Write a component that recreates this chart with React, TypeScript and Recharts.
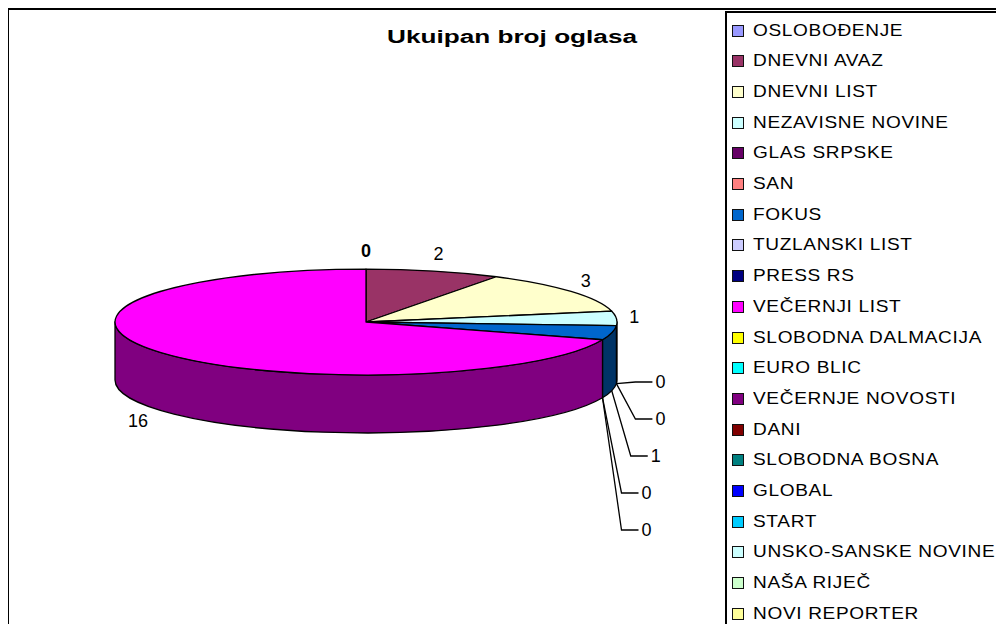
import { Legend, Pie, PieChart } from "recharts";

const NAMES = [
  "OSLOBOĐENJE",
  "DNEVNI AVAZ",
  "DNEVNI LIST",
  "NEZAVISNE NOVINE",
  "GLAS SRPSKE",
  "SAN",
  "FOKUS",
  "TUZLANSKI LIST",
  "PRESS RS",
  "VEČERNJI LIST",
  "SLOBODNA DALMACIJA",
  "EURO BLIC",
  "VEČERNJE NOVOSTI",
  "DANI",
  "SLOBODNA BOSNA",
  "GLOBAL",
  "START",
  "UNSKO-SANSKE NOVINE",
  "NAŠA RIJEČ",
  "NOVI REPORTER",
];

const COLORS = [
  "#9999FF", "#993366", "#FFFFCC", "#CCFFFF", "#660066",
  "#FF8080", "#0066CC", "#CCCCFF", "#000080", "#FF00FF",
  "#FFFF00", "#00FFFF", "#800080", "#800000", "#008080",
  "#0000FF", "#00CCFF", "#CCFFFF", "#CCFFCC", "#FFFF99",
];

// only the first ten papers have a count in the pie
const COUNTS = [0, 2, 3, 1, 0, 0, 1, 0, 0, 16];

const TITLE = "Ukuipan broj oglasa";

const FONT = '"Liberation Sans", Arial, sans-serif';
const K = 0.211; // vertical squash of the pie
const DEPTH = 58;
const RAD = Math.PI / 180;

const data = COUNTS.map((value, i) => ({ name: NAMES[i], value, fill: COLORS[i] }));

function shade(hex: string, f = 0.5) {
  const n = parseInt(hex.slice(1), 16);
  const r = Math.round(((n >> 16) & 255) * f);
  const g = Math.round(((n >> 8) & 255) * f);
  const b = Math.round((n & 255) * f);
  return `rgb(${r},${g},${b})`;
}

function pt(cx: number, cy: number, r: number, a: number, dy = 0) {
  return `${cx + r * Math.cos(a * RAD)},${cy - r * K * Math.sin(a * RAD) + dy}`;
}

function Sector3D(props: any) {
  const { cx, cy, outerRadius: r, startAngle, endAngle } = props;
  const fill = props.fill || props.payload?.fill;
  if (Math.abs(startAngle - endAngle) < 1e-6) return <g />;
  const hi = Math.max(startAngle, endAngle);
  const lo = Math.min(startAngle, endAngle);
  const ry = r * K;
  const large = hi - lo > 180 ? 1 : 0;
  const top = `M${cx},${cy} L${pt(cx, cy, r, hi)} A${r},${ry} 0 ${large} 1 ${pt(cx, cy, r, lo)} Z`;
  const a1 = Math.min(hi, 0);
  const a2 = Math.max(lo, -180);
  let side = "";
  if (a1 > a2) {
    side =
      `M${pt(cx, cy, r, a1)} A${r},${ry} 0 0 1 ${pt(cx, cy, r, a2)} ` +
      `L${pt(cx, cy, r, a2, DEPTH)} A${r},${ry} 0 0 0 ${pt(cx, cy, r, a1, DEPTH)} Z`;
  }
  return (
    <g>
      {side && (
        <path d={side} fill={shade(fill)} stroke="#000" strokeWidth={1.3} strokeLinejoin="round" />
      )}
      <path d={top} fill={fill} stroke="#000" strokeWidth={1.3} strokeLinejoin="round" />
    </g>
  );
}

let stackK = 0;

function renderLabel(props: any) {
  const { cx, cy, midAngle, outerRadius: r, value, index, percent } = props;
  if (index === 0) stackK = 0;
  const sin = Math.sin(midAngle * RAD);
  const cos = Math.cos(midAngle * RAD);
  const ry = r * K;
  const txt = { fontFamily: FONT, fontSize: 18, fill: "#000" };

  if (percent < 0.05 && sin < -1e-9) {
    // small slices under the right edge get leader lines, stacked downwards
    const k = stackK++;
    const ax = cx + r * cos;
    const ay = cy - ry * sin + DEPTH;
    const yk = cy + DEPTH + 2 + k * 37;
    const ex = ax + 19;
    const endX = ex + 17;
    return (
      <g key={`lbl-${index}`}>
        <path d={`M${ax},${ay} L${ex},${yk} L${endX},${yk}`} fill="none" stroke="#000" strokeWidth={1.3} />
        <text x={endX + 3} y={yk} dominantBaseline="central" textAnchor="start" {...txt}>
          {value}
        </text>
      </g>
    );
  }

  const x = cx + (r + 18) * cos + (sin < 0 ? cos * 10 : 0);
  const y = cy - (ry + 18) * sin + (sin < 0 ? DEPTH : 0);
  return (
    <text
      key={`lbl-${index}`}
      x={x}
      y={y}
      textAnchor="middle"
      dominantBaseline="central"
      fontWeight={index === 0 ? "bold" : "normal"}
      {...txt}
    >
      {value}
    </text>
  );
}

function LegendBox() {
  return (
    <div
      style={{
        position: "relative",
        width: 290,
        height: 620,
        boxSizing: "border-box",
        borderLeft: "2px solid #000",
        borderTop: "2px solid #000",
        fontFamily: FONT,
      }}
    >
      {NAMES.map((name, i) => {
        const c = 17.5 + 30.7 * i;
        return (
          <div key={name}>
            <div
              style={{
                position: "absolute",
                left: 5,
                top: c - 6,
                width: 12,
                height: 12,
                boxSizing: "border-box",
                border: "1.5px solid #111",
                background: COLORS[i],
              }}
            />
            <div
              style={{
                position: "absolute",
                left: 26,
                top: c - 10,
                height: 20,
                lineHeight: "20px",
                fontSize: 17,
                letterSpacing: 0.6,
                transform: "scaleX(1.12)",
                transformOrigin: "0 50%",
                whiteSpace: "nowrap",
                color: "#000",
              }}
            >
              {name}
            </div>
          </div>
        );
      })}
    </div>
  );
}

export default function App() {
  return (
    <div
      style={{
        marginLeft: -1,
        width: 997,
        height: 616,
        boxSizing: "border-box",
        borderLeft: "2px solid #000",
        borderTop: "2px solid #000",
        overflow: "hidden",
        background: "#fff",
        fontFamily: FONT,
      }}
    >
      <PieChart width={995} height={614} margin={{ top: 0, right: 0, bottom: 0, left: 0 }}>
        <text
          x={503}
          y={33}
          textAnchor="middle"
          textLength={250}
          lengthAdjust="spacingAndGlyphs"
          fontFamily={FONT}
          fontSize={18}
          fontWeight="bold"
          fill="#000"
        >
          {TITLE}
        </text>
        <Pie
          data={data}
          dataKey="value"
          nameKey="name"
          cx={357}
          cy={312}
          outerRadius={251}
          startAngle={90}
          endAngle={-270}
          shape={Sector3D}
          label={renderLabel}
          labelLine={false}
          stroke="#000"
          isAnimationActive={false}
        />
        <Legend
          content={() => <LegendBox />}
          wrapperStyle={{ left: 716, top: 1, width: 290, height: 620 }}
        />
      </PieChart>
    </div>
  );
}
